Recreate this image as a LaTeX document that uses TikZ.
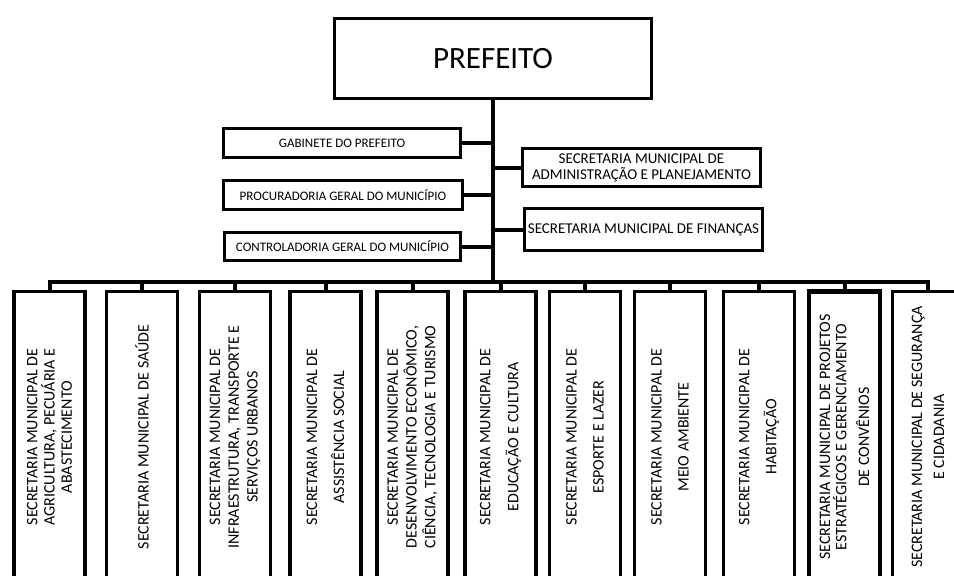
\documentclass[tikz,border=0pt]{standalone}
\usepackage{fontspec}
\setmainfont{Carlito}
\begin{document}
\begin{tikzpicture}[x=1pt,y=-1pt,
  box/.style={draw=black,line width=3.2pt,fill=white,inner sep=1pt,align=center,text=black},
  topbox/.style={box,font=\fontsize{13}{15}\selectfont},
  rightbox/.style={box,font=\fontsize{15}{17}\selectfont},
  secbox/.style={box,rotate=90,minimum width=291pt,minimum height=71pt,font=\fontsize{16}{18.8}\selectfont},
  link/.style={draw=black,line width=4pt}]
\useasboundingbox (0,0) rectangle (954,576);
\clip (0,0) rectangle (954,576);
% top
\node[box,minimum width=317pt,minimum height=80pt,font=\fontsize{31}{34}\selectfont] (pref) at (493,58.5) {PREFEITO};
\node[topbox,minimum width=237pt,minimum height=29pt] (gab) at (342,143) {GABINETE DO PREFEITO};
\node[topbox,minimum width=239pt,minimum height=29pt] (proc) at (343,195) {PROCURADORIA GERAL DO MUNICÍPIO};
\node[topbox,minimum width=236pt,minimum height=28pt] (contr) at (342.5,246.5) {CONTROLADORIA GERAL DO MUNICÍPIO};
\node[rightbox,minimum width=238pt,minimum height=38pt] (adm) at (641.5,167.5) {SECRETARIA MUNICIPAL DE\\[-1pt]ADMINISTRAÇÃO E PLANEJAMENTO};
\node[rightbox,minimum width=238pt,minimum height=42pt] (fin) at (643.5,229.5) {SECRETARIA MUNICIPAL DE FINANÇAS};
\coordinate (bus) at (493,282);
% bottom
\node[secbox] (b1) at (49.5,437) {SECRETARIA MUNICIPAL DE\\[-1.5pt]AGRICULTURA, PECUÁRIA E\\[-1.5pt]ABASTECIMENTO};
\node[secbox] (b2) at (142,437) {SECRETARIA MUNICIPAL DE SAÚDE};
\node[secbox] (b3) at (235,437) {SECRETARIA MUNICIPAL DE\\INFRAESTRUTURA, TRANSPORTE E\\SERVIÇOS URBANOS};
\node[secbox] (b4) at (325.5,437) {SECRETARIA MUNICIPAL DE\\[8pt]ASSISTÊNCIA SOCIAL};
\node[secbox] (b5) at (412.5,437) {SECRETARIA MUNICIPAL DE\\DESENVOLVIMENTO ECONÔMICO,\\CIÊNCIA, TECNOLOGIA E TURISMO};
\node[secbox] (b6) at (500.5,437) {SECRETARIA MUNICIPAL DE\\[9pt]EDUCAÇÃO E CULTURA};
\node[secbox] (b7) at (585,437) {SECRETARIA MUNICIPAL DE\\[8pt]ESPORTE E LAZER};
\node[secbox] (b8) at (670,437) {SECRETARIA MUNICIPAL DE\\[8pt]MEIO AMBIENTE};
\node[secbox] (b9) at (759,437) {SECRETARIA MUNICIPAL DE\\[8pt]HABITAÇÃO};
\node[secbox,line width=4.5pt] (b10) at (844.5,437) {SECRETARIA MUNICIPAL DE PROJETOS\\[-2.5pt]ESTRATÉGICOS E GERENCIAMENTO\\[4pt]DE CONVÊNIOS};
\node[secbox] (b11) at (928,437) {SECRETARIA MUNICIPAL DE SEGURANÇA\\[3pt]E CIDADANIA};
% connectors
\draw[link] (pref.south) -- (bus);
\draw[link] (gab.east) -- (gab.east -| bus);
\draw[link] (proc.east) -- (proc.east -| bus);
\draw[link] (contr.east) -- (contr.east -| bus);
\draw[link] (adm.west) -- (adm.west -| bus);
\draw[link] (fin.west) -- (fin.west -| bus);
\draw[link,line cap=rect] (bus -| b1.east) -- (bus -| b11.east);
\foreach \b in {b1,b2,b3,b4,b5,b6,b7,b8,b9,b10,b11}{
  \draw[link] (bus -| \b.east) -- (\b.east);
}
\end{tikzpicture}
\end{document}
